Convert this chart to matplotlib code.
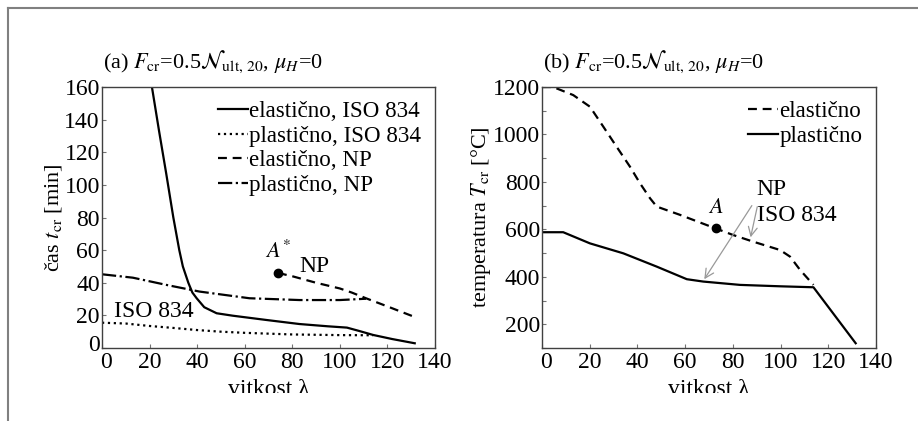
import matplotlib
matplotlib.use('Agg')
import matplotlib.pyplot as plt
from matplotlib.lines import Line2D
from matplotlib.transforms import ScaledTranslation, Bbox, TransformedBbox

plt.rcParams['font.family'] = ['Liberation Serif', 'DejaVu Serif']
plt.rcParams['mathtext.fontset'] = 'stix'
plt.rcParams['font.size'] = 16

# (a) critical time vs slenderness
el_iso_x = [21, 24, 27, 30, 32.5, 34, 36.3, 38, 39.8, 43, 48.2, 55, 69, 83, 95, 103, 108, 114, 122, 131.5]
el_iso_y = [160, 133, 107, 80, 60, 50, 40, 34, 30.5, 25, 21.3, 19.8, 17.2, 14.7, 13.3, 12.5, 10.5, 8, 5.5, 2.9]
pl_iso_x = [0, 10, 20, 30, 40, 50, 60, 80, 100, 114]
pl_iso_y = [15.5, 15, 13.5, 12.3, 11, 10, 9.3, 8.3, 7.9, 7.8]
el_np_x = [74, 80, 90, 100, 105, 111, 120, 131.5]
el_np_y = [46, 44, 40, 36.5, 34, 30.5, 25.5, 19]
pl_np_x = [0, 13, 27, 41, 62, 83, 100, 111]
pl_np_y = [45.2, 43.1, 38.7, 34.6, 30.5, 29.4, 29.4, 30.2]
a_star = (74, 46)

# (b) critical temperature vs slenderness
el_T_x = [0, 4.7, 13.1, 20.1, 25.7, 31.3, 36.9, 41.1, 45.3, 48.1, 57.9, 69.1, 80.2, 88.6, 99.8, 104, 108.2, 113.8]
el_T_y = [1200, 1200, 1166, 1117, 1033, 948, 864, 794, 731, 696, 661, 618, 576, 548, 513, 485, 429, 366]
pl_T_x = [0, 8.9, 20.1, 34.1, 48.1, 60.7, 67.6, 83, 100, 113.8, 131.5]
pl_T_y = [588, 588, 541, 499, 443, 390, 380, 366, 360, 356, 120]
a_pt = (72.8, 605)

x_ticks = [0, 20, 40, 60, 80, 100, 120, 140]
t_ticks = [0, 20, 40, 60, 80, 100, 120, 140, 160]
T_ticks = [200, 400, 600, 800, 1000, 1200]

fig = plt.figure(figsize=(9.18, 4.21), dpi=100)
ax1 = fig.add_axes([0.1111, 0.1734, 0.3627, 0.6199])
ax2 = fig.add_axes([0.5904, 0.1734, 0.3638, 0.6199])

dash = (4, 2.6)

# left panel
ax1.plot(el_iso_x, el_iso_y, '-', color='k', lw=1.6, label='elastično, ISO 834')
ax1.plot(pl_iso_x, pl_iso_y, ':', color='k', lw=1.6, label='plastično, ISO 834')
ax1.plot(el_np_x, el_np_y, '--', dashes=dash, color='k', lw=1.6, label='elastično, NP')
ax1.plot(pl_np_x, pl_np_y, '-.', color='k', lw=1.6, label='plastično, NP')
ax1.plot(*a_star, 'o', color='k', ms=6)
ax1.text(a_star[0], 52, r'$A^{*}$', ha='center', va='bottom', fontsize=16)
ax1.text(83, 50, 'NP', ha='left', va='center', fontsize=17)
ax1.text(22, 22.5, 'ISO 834', ha='center', va='center', fontsize=17)
ax1.set_xlim(0, 140)
ax1.set_ylim(0, 160)
ax1.set_xticks(x_ticks)
ax1.set_yticks(t_ticks)
ax1.set_ylabel(r'čas $t_{\mathrm{cr}}$ [min]', labelpad=0)
ax1.set_xlabel('vitkost λ', labelpad=4.5, fontsize=17)
ax1.legend(loc='upper right', frameon=False, handlelength=1.3, handletextpad=0.05,
           labelspacing=0.15, borderaxespad=0.2, fontsize=16.6)

# right panel
ax2.plot(el_T_x, el_T_y, '--', dashes=dash, color='k', lw=1.6, label='elastično')
ax2.plot(pl_T_x, pl_T_y, '-', color='k', lw=1.6, label='plastično')
ax2.plot(*a_pt, 'o', color='k', ms=6)
ax2.text(a_pt[0], 650, r'$A$', ha='center', va='bottom', fontsize=16)
ax2.text(90, 770, 'NP', ha='left', va='center', fontsize=17)
ax2.text(90, 660, 'ISO 834', ha='left', va='center', fontsize=17)
ax2.annotate('', xy=(67.4, 380), xytext=(88.6, 710),
             arrowprops=dict(arrowstyle='->', color='0.6', lw=0.9))
ax2.annotate('', xy=(87.2, 555), xytext=(90.5, 707),
             arrowprops=dict(arrowstyle='->', color='0.6', lw=0.9))
ax2.set_xlim(0, 140)
ax2.set_ylim(100, 1200)
ax2.set_xticks(x_ticks)
ax2.set_yticks(T_ticks)
ax2.set_yticks(list(range(100, 1201, 100)), minor=True)
ax2.set_ylabel(r'temperatura $T_{\mathrm{cr}}$ [°C]', labelpad=0)
ax2.set_xlabel('vitkost λ', labelpad=4.5, fontsize=17)
ax2.legend(loc='upper right', frameon=False, handlelength=1.3, handletextpad=0.05,
           labelspacing=0.15, borderaxespad=0.2, fontsize=16.6)

clip = TransformedBbox(Bbox.from_extents(0, 28 / 421, 1, 1), fig.transFigure)
for ax in (ax1, ax2):
    ax.tick_params(which='both', direction='in', length=3, width=0.8, color='0.45',
                   top=False, right=False, pad=3, labelsize=17)
    ax.tick_params(axis='y', pad=1.5)
    for s in ax.spines.values():
        s.set_color('0.25')
        s.set_linewidth(1.0)
    lab = ax.xaxis.get_label()
    lab.set_clip_box(clip)
    lab.set_clip_on(True)
    # nudge the "0" on x so it clears the corner
    t0 = ax.xaxis.get_major_ticks()[0].label1
    t0.set_transform(t0.get_transform() + ScaledTranslation(4 / 100, 0, fig.dpi_scale_trans))

y0 = ax1.yaxis.get_major_ticks()[0].label1
y0.set_transform(y0.get_transform() + ScaledTranslation(0, 5 / 100, fig.dpi_scale_trans))

fig.text(103 / 918, 1 - 62 / 421,
         r'(a) $F_{\mathrm{cr}}$=0.5$\mathcal{N}_{\mathrm{ult,\,20}}$, $\mu_{H}$=0',
         ha='left', va='center', fontsize=16)
fig.text(543 / 918, 1 - 62 / 421,
         r'(b) $F_{\mathrm{cr}}$=0.5$\mathcal{N}_{\mathrm{ult,\,20}}$, $\mu_{H}$=0',
         ha='left', va='center', fontsize=16)

# outer frame (left and top edges)
fig.add_artist(Line2D([7.5 / 918, 7.5 / 918], [0, 1 - 7.5 / 421], transform=fig.transFigure,
                      color='0.5', lw=1.5))
fig.add_artist(Line2D([7.5 / 918, 1], [1 - 7.5 / 421, 1 - 7.5 / 421], transform=fig.transFigure,
                      color='0.5', lw=1.5))

fig.savefig('out.png', dpi=100)
